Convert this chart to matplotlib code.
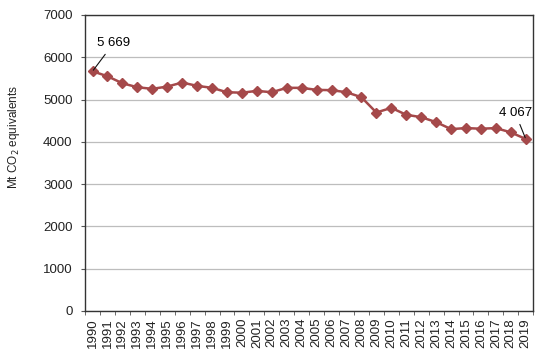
import numpy as np
import matplotlib
matplotlib.use('Agg')
import matplotlib.pyplot as plt

plt.rcParams['font.family'] = ['Liberation Sans', 'DejaVu Sans']

# data
years = list(range(1990, 2020))
emissions = [5669, 5551, 5385, 5291, 5253, 5307, 5402, 5324, 5277, 5173,
             5162, 5205, 5173, 5277, 5277, 5229, 5222, 5173, 5055, 4693,
             4804, 4640, 4584, 4466, 4301, 4325, 4310, 4325, 4224, 4067]
y_ticks = [0, 1000, 2000, 3000, 4000, 5000, 6000, 7000]

line_col = '#A5494A'

fig = plt.figure(figsize=(5.56, 3.57), dpi=100)
ax = fig.add_axes([0.153, 0.129, 0.806, 0.829])

x = np.arange(len(years))
ax.plot(x, emissions, color=line_col, lw=1.8, marker='D', ms=5,
        mfc=line_col, mec=line_col, zorder=3)

ax.set_xlim(-0.5, len(years) - 0.5)
ax.set_ylim(0, 7000)
ax.set_yticks(y_ticks)
ax.set_yticklabels([str(v) for v in y_ticks], fontsize=9.5, color='#222222')
ax.grid(axis='y', color='#BDBDBD', lw=0.9)
ax.set_axisbelow(True)

# category labels centred, tick marks between categories
ax.set_xticks(x)
ax.set_xticklabels([str(y) for y in years], rotation=90, fontsize=9.5,
                   color='#222222')
ax.tick_params(axis='x', length=0, pad=5)
ax.set_xticks(np.arange(-0.5, len(years), 1), minor=True)
ax.tick_params(axis='x', which='minor', length=3, color='#555555')
ax.tick_params(axis='y', length=3, color='#555555', pad=6)

for s in ax.spines.values():
    s.set_color('#333333')
    s.set_linewidth(1.0)

ax.set_ylabel('Mt CO$_2$ equivalents', fontsize=8.5, color='#222222')
ax.yaxis.set_label_coords(-0.141, 0.588)

# value labels at both ends
ax.annotate('5 669', xy=(0, emissions[0]), xytext=(1.4, 6330),
            fontsize=9.5, ha='center', va='center',
            arrowprops=dict(arrowstyle='-', color='#111111', lw=0.8,
                            shrinkA=2, shrinkB=1))
ax.annotate('4 067', xy=(len(years) - 1, emissions[-1]), xytext=(28.3, 4680),
            fontsize=9.5, ha='center', va='center',
            arrowprops=dict(arrowstyle='-', color='#111111', lw=0.8,
                            shrinkA=2, shrinkB=1))

fig.savefig('out.png', dpi=100)
